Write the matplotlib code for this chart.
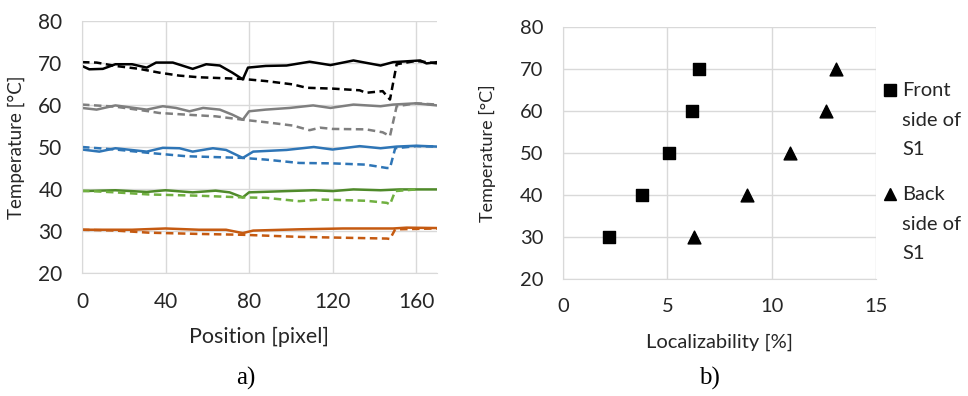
import matplotlib
matplotlib.use("Agg")
import matplotlib.pyplot as plt
from matplotlib.lines import Line2D

# ---------------- Data: panel a) ----------------
black_solid_x = [0, 3.5, 10, 16, 24, 31, 35.5, 43.5, 53, 59.5, 66, 72, 77, 79.5, 88, 98, 109, 119, 130, 143, 149, 162, 165, 170]
black_solid_y = [69.3, 68.5, 68.6, 69.7, 69.7, 68.9, 70.1, 70.1, 68.6, 69.7, 69.4, 67.7, 66.1, 68.9, 69.3, 69.4, 70.3, 69.5, 70.6, 69.4, 70.2, 70.6, 69.9, 70.2]
black_dash_x = [0, 7, 16, 27.5, 37, 46.5, 56, 77, 88, 101, 107.5, 120, 133, 136, 144, 147.5, 150.7, 160, 170]
black_dash_y = [70.2, 70.1, 69.3, 68.6, 67.7, 67.0, 66.6, 66.2, 65.7, 64.9, 64.1, 63.9, 63.5, 62.9, 63.3, 61.3, 69.7, 70.5, 69.9]

gray_solid_x = [0, 7, 16, 31, 38.7, 45, 51.5, 58, 66, 72, 77, 80, 88, 99.5, 110.7, 119, 130, 143, 149, 160, 170]
gray_solid_y = [59.3, 58.9, 59.9, 58.9, 59.7, 59.3, 58.5, 59.3, 58.9, 57.7, 56.5, 58.5, 58.9, 59.3, 59.9, 59.3, 60.1, 59.7, 60.1, 60.4, 59.9]
gray_dash_x = [0, 16, 32, 37, 50, 64, 77, 88, 101, 109, 114, 120, 136, 144, 147.5, 150.7, 160, 170]
gray_dash_y = [60.1, 59.6, 58.5, 58.1, 57.7, 57.3, 56.5, 55.9, 55.1, 54.0, 54.6, 54.3, 54.2, 53.5, 52.6, 59.7, 60.4, 60.1]

blue_solid_x = [0, 8.3, 16, 31, 38.7, 46.7, 53, 62.7, 69, 77, 82, 98, 111, 120, 133, 143, 150.7, 160, 170]
blue_solid_y = [49.4, 48.9, 49.7, 48.9, 49.8, 49.7, 48.9, 49.7, 49.3, 47.4, 48.9, 49.3, 50.0, 49.4, 50.2, 49.7, 50.1, 50.3, 50.1]
blue_dash_x = [0, 16, 32, 50, 77, 88, 104, 120, 136, 146, 147.5, 150, 160, 170]
blue_dash_y = [50.0, 49.4, 48.6, 47.8, 47.4, 47.0, 46.2, 46.1, 45.8, 45.0, 45.0, 49.7, 50.2, 50.1]

green_solid_x = [0, 16, 31, 40, 53, 64, 70.7, 77, 80, 98, 111, 120, 130, 143, 152, 170]
green_solid_y = [39.5, 39.7, 39.3, 39.7, 39.2, 39.6, 39.2, 38.0, 39.2, 39.5, 39.7, 39.5, 39.9, 39.7, 39.9, 39.9]
green_dash_x = [0, 16, 32, 56, 77, 88, 104, 114, 136, 146, 147.5, 150, 160]
green_dash_y = [39.6, 39.2, 38.7, 38.4, 38.0, 37.9, 37.1, 37.5, 37.2, 36.7, 36.3, 39.5, 39.9]

orange_solid_x = [0, 24, 40, 56, 69, 77, 82, 104, 125, 149, 155.5, 170]
orange_solid_y = [30.3, 30.3, 30.6, 30.3, 30.3, 29.5, 30.1, 30.4, 30.6, 30.6, 30.8, 30.7]
orange_dash_x = [0, 16, 32, 56, 77, 104, 146, 147.5, 150, 170]
orange_dash_y = [30.3, 30.1, 29.6, 29.3, 29.1, 28.6, 28.2, 28.1, 30.4, 30.6]

# ---------------- Data: panel b) ----------------
temps = [30, 40, 50, 60, 70]
front_loc = [2.2, 3.8, 5.1, 6.2, 6.5]
back_loc = [6.3, 8.8, 10.9, 12.6, 13.1]
front_label = "Front\nside of\nS1"
back_label = "Back\nside of\nS1"

plt.rcParams['font.family'] = ['Lato', 'DejaVu Sans']
TXT = '#262626'
GRID = '#d9d9d9'

fig = plt.figure(figsize=(9.68, 3.96), dpi=100)

def style(ax, size):
    for s in ax.spines.values():
        s.set_visible(False)
    ax.spines['left'].set_visible(True)
    ax.spines['bottom'].set_visible(True)
    ax.spines['left'].set_color(GRID)
    ax.spines['bottom'].set_color(GRID)
    ax.grid(True, color=GRID, linewidth=1)
    ax.set_axisbelow(True)
    ax.tick_params(length=0, labelsize=size, colors=TXT)
    ax.tick_params(axis='x', pad=14)
    ax.tick_params(axis='y', pad=14)

# Panel a
ax1 = fig.add_axes([0.0847, 0.3106, 0.3667, 0.6364])
series = [
    (black_solid_x, black_solid_y, '#000000', '-'),
    (black_dash_x, black_dash_y, '#000000', '--'),
    (gray_solid_x, gray_solid_y, '#7f7f7f', '-'),
    (gray_dash_x, gray_dash_y, '#7f7f7f', '--'),
    (blue_solid_x, blue_solid_y, '#2e75b6', '-'),
    (blue_dash_x, blue_dash_y, '#2e75b6', '--'),
    (green_solid_x, green_solid_y, '#4f8a2a', '-'),
    (green_dash_x, green_dash_y, '#70b040', '--'),
    (orange_solid_x, orange_solid_y, '#c55a11', '-'),
    (orange_dash_x, orange_dash_y, '#c55a11', '--'),
]
for x, y, c, ls in series:
    kw = {'dashes': (3, 1.8)} if ls == '--' else {}
    ax1.plot(x, y, color=c, linestyle=ls, linewidth=1.8, **kw)
ax1.set_xlim(0, 170)
ax1.set_ylim(20, 80)
ax1.set_xticks([0, 40, 80, 120, 160])
ax1.set_yticks([20, 30, 40, 50, 60, 70, 80])
style(ax1, 15)
ax1.set_xlabel('Position [pixel]', fontsize=15.5, color=TXT)
ax1.set_ylabel('Temperature [°C]', fontsize=13.5, color=TXT)
ax1.yaxis.set_label_coords(-0.16, 0.5)
ax1.xaxis.set_label_coords(0.5, -0.215)

# Panel b
ax2 = fig.add_axes([0.5816, 0.2955, 0.3234, 0.6364])
ax2.scatter(front_loc, temps, marker='s', s=78, color='black', zorder=3)
ax2.scatter(back_loc, temps, marker='^', s=85, color='black', zorder=3)
ax2.set_xlim(0, 15)
ax2.set_ylim(20, 80)
ax2.set_xticks([0, 5, 10, 15])
ax2.set_yticks([20, 30, 40, 50, 60, 70, 80])
style(ax2, 14.5)
ax2.set_xlabel('Localizability [%]', fontsize=14.5, color=TXT)
ax2.set_ylabel('Temperature [°C]', fontsize=13, color=TXT)
ax2.yaxis.set_label_coords(-0.215, 0.5)
ax2.xaxis.set_label_coords(0.5, -0.215)

# Legend (panel b), drawn at right of the plot area
for lab, mk, ycen in [(front_label, 's', 90), (back_label, '^', 194)]:
    fig.add_artist(Line2D([890 / 968], [1 - ycen / 396], transform=fig.transFigure,
                          marker=mk, markersize=8 if mk == 's' else 9, color='black', linestyle='none'))
    fig.text(902 / 968, 1 - (ycen - 8) / 396, lab, fontsize=14.5, color=TXT,
             ha='left', va='top', linespacing=1.9)

fig.text(0.254, 0.045, 'a)', fontsize=18, family='Liberation Serif', ha='center', va='center')
fig.text(0.733, 0.045, 'b)', fontsize=18, family='Liberation Serif', ha='center', va='center')

fig.savefig('out.png', dpi=100)
